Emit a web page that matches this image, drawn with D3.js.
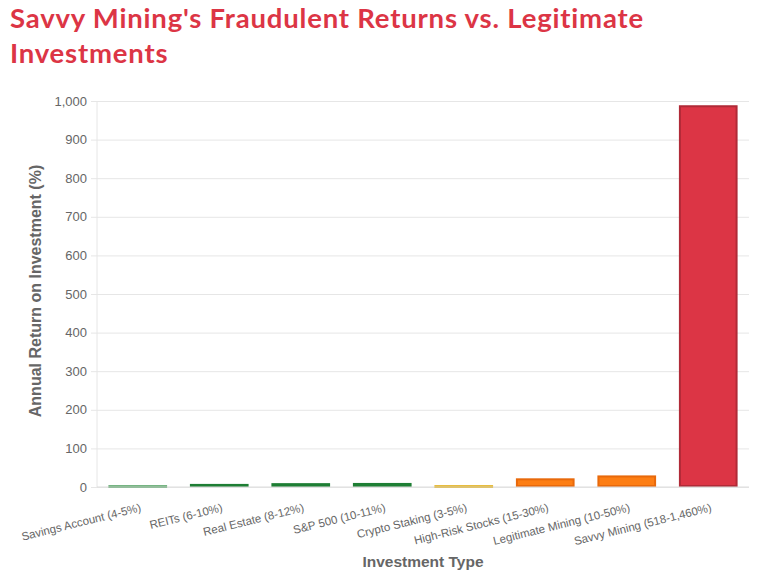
<!DOCTYPE html>
<html>
<head>
<meta charset="utf-8">
<script src="https://cdn.jsdelivr.net/npm/d3@7"></script>
<style>
  body { margin: 0; background: #fff; }
  svg text { font-family: "Liberation Sans", Arial, sans-serif; }
</style>
</head>
<body>
<svg id="chart" width="758" height="575"></svg>
<script>
// categories + average annual return (midpoint of each range)
const categories = [
  "Savings Account (4-5%)", "REITs (6-10%)", "Real Estate (8-12%)", "S&P 500 (10-11%)",
  "Crypto Staking (3-5%)", "High-Risk Stocks (15-30%)", "Legitimate Mining (10-50%)",
  "Savvy Mining (518-1,460%)"
];
const returns = [4.5, 8, 10, 10.5, 4, 22.5, 30, 989];
const yTicks = [0, 100, 200, 300, 400, 500, 600, 700, 800, 900, 1000];
const fills = ["#5cb85c", "#28a745", "#28a745", "#28a745", "#ffc107", "#fd7e14", "#fd7e14", "#dc3545"];
const strokes = ["#4a9d5a", "#1e7e34", "#1e7e34", "#1e7e34", "#e0a800", "#e8690b", "#e8690b", "#b02a37"];

const svg = d3.select("#chart"),
      margin = {top: 101, right: 9, bottom: 88, left: 97},
      width = +svg.attr("width") - margin.left - margin.right,
      height = +svg.attr("height") - margin.top - margin.bottom;

// title
const title = svg.append("text")
  .attr("x", 10).attr("y", 28)
  .style("font-family", "Lato, 'Noto Sans', sans-serif")
  .style("font-size", "27.5px").style("font-weight", "bold")
  .style("letter-spacing", "0.8px")
  .attr("fill", "#dc3545");
title.append("tspan").attr("x", 10).attr("y", 28).text("Savvy Mining's Fraudulent Returns vs. Legitimate");
title.append("tspan").attr("x", 10).attr("y", 63).text("Investments");

const g = svg.append("g").attr("transform", `translate(${margin.left},${margin.top})`);

const x = d3.scaleBand().domain(categories).range([0, width]).paddingInner(0.28).paddingOuter(0.14);
const y = d3.scaleLinear().domain([0, 1000]).range([height, 0]);

// grid
g.append("g")
  .call(d3.axisLeft(y).tickValues(yTicks).tickSize(-width - 6).tickFormat(""))
  .attr("transform", "translate(-6,0)")
  .call(a => a.select(".domain").remove())
  .selectAll("line").attr("stroke", "#e6e6e6");

g.append("line").attr("x1", 0).attr("x2", 0).attr("y1", 0).attr("y2", height).attr("stroke", "#e6e6e6");

// y axis labels
g.append("g")
  .call(d3.axisLeft(y).tickValues(yTicks).tickSize(0).tickPadding(10).tickFormat(d3.format(",")))
  .call(a => a.select(".domain").remove())
  .selectAll("text")
  .attr("fill", "#666").style("font-size", "13px");

// bars (border drawn inside the bar, like canvas charts)
const bw = 2;
g.selectAll(".bar")
  .data(returns)
  .enter().append("rect")
    .attr("x", (d, i) => x(categories[i]) + bw / 2)
    .attr("y", d => Math.min(y(d) + bw / 2, height - 0.75))
    .attr("width", x.bandwidth() - bw)
    .attr("height", d => Math.max(height - y(d) - bw, 0.75))
    .attr("fill", (d, i) => fills[i])
    .attr("stroke", (d, i) => strokes[i])
    .attr("stroke-width", bw);

// bottom axis line
g.append("line").attr("x1", 0).attr("x2", width).attr("y1", height).attr("y2", height).attr("stroke", "#ddd");

// x tick labels, rotated
g.append("g")
  .attr("transform", `translate(0,${height})`)
  .selectAll("text")
  .data(categories)
  .enter().append("text")
    .attr("transform", d => `translate(${x(d) + x.bandwidth() / 2 + 4},${24}) rotate(-14)`)
    .attr("text-anchor", "end")
    .attr("fill", "#666")
    .style("font-size", "11.5px")
    .text(d => d);

// axis titles
svg.append("text")
  .attr("transform", `translate(41,${margin.top + height / 2 - 3}) rotate(-90)`)
  .attr("text-anchor", "middle")
  .attr("fill", "#666")
  .style("font-size", "16px").style("font-weight", "bold")
  .text("Annual Return on Investment (%)");

svg.append("text")
  .attr("x", margin.left + width / 2) .attr("y", 567)
  .attr("text-anchor", "middle")
  .attr("fill", "#666")
  .style("font-size", "15.5px").style("font-weight", "bold")
  .text("Investment Type");
</script>
</body>
</html>
